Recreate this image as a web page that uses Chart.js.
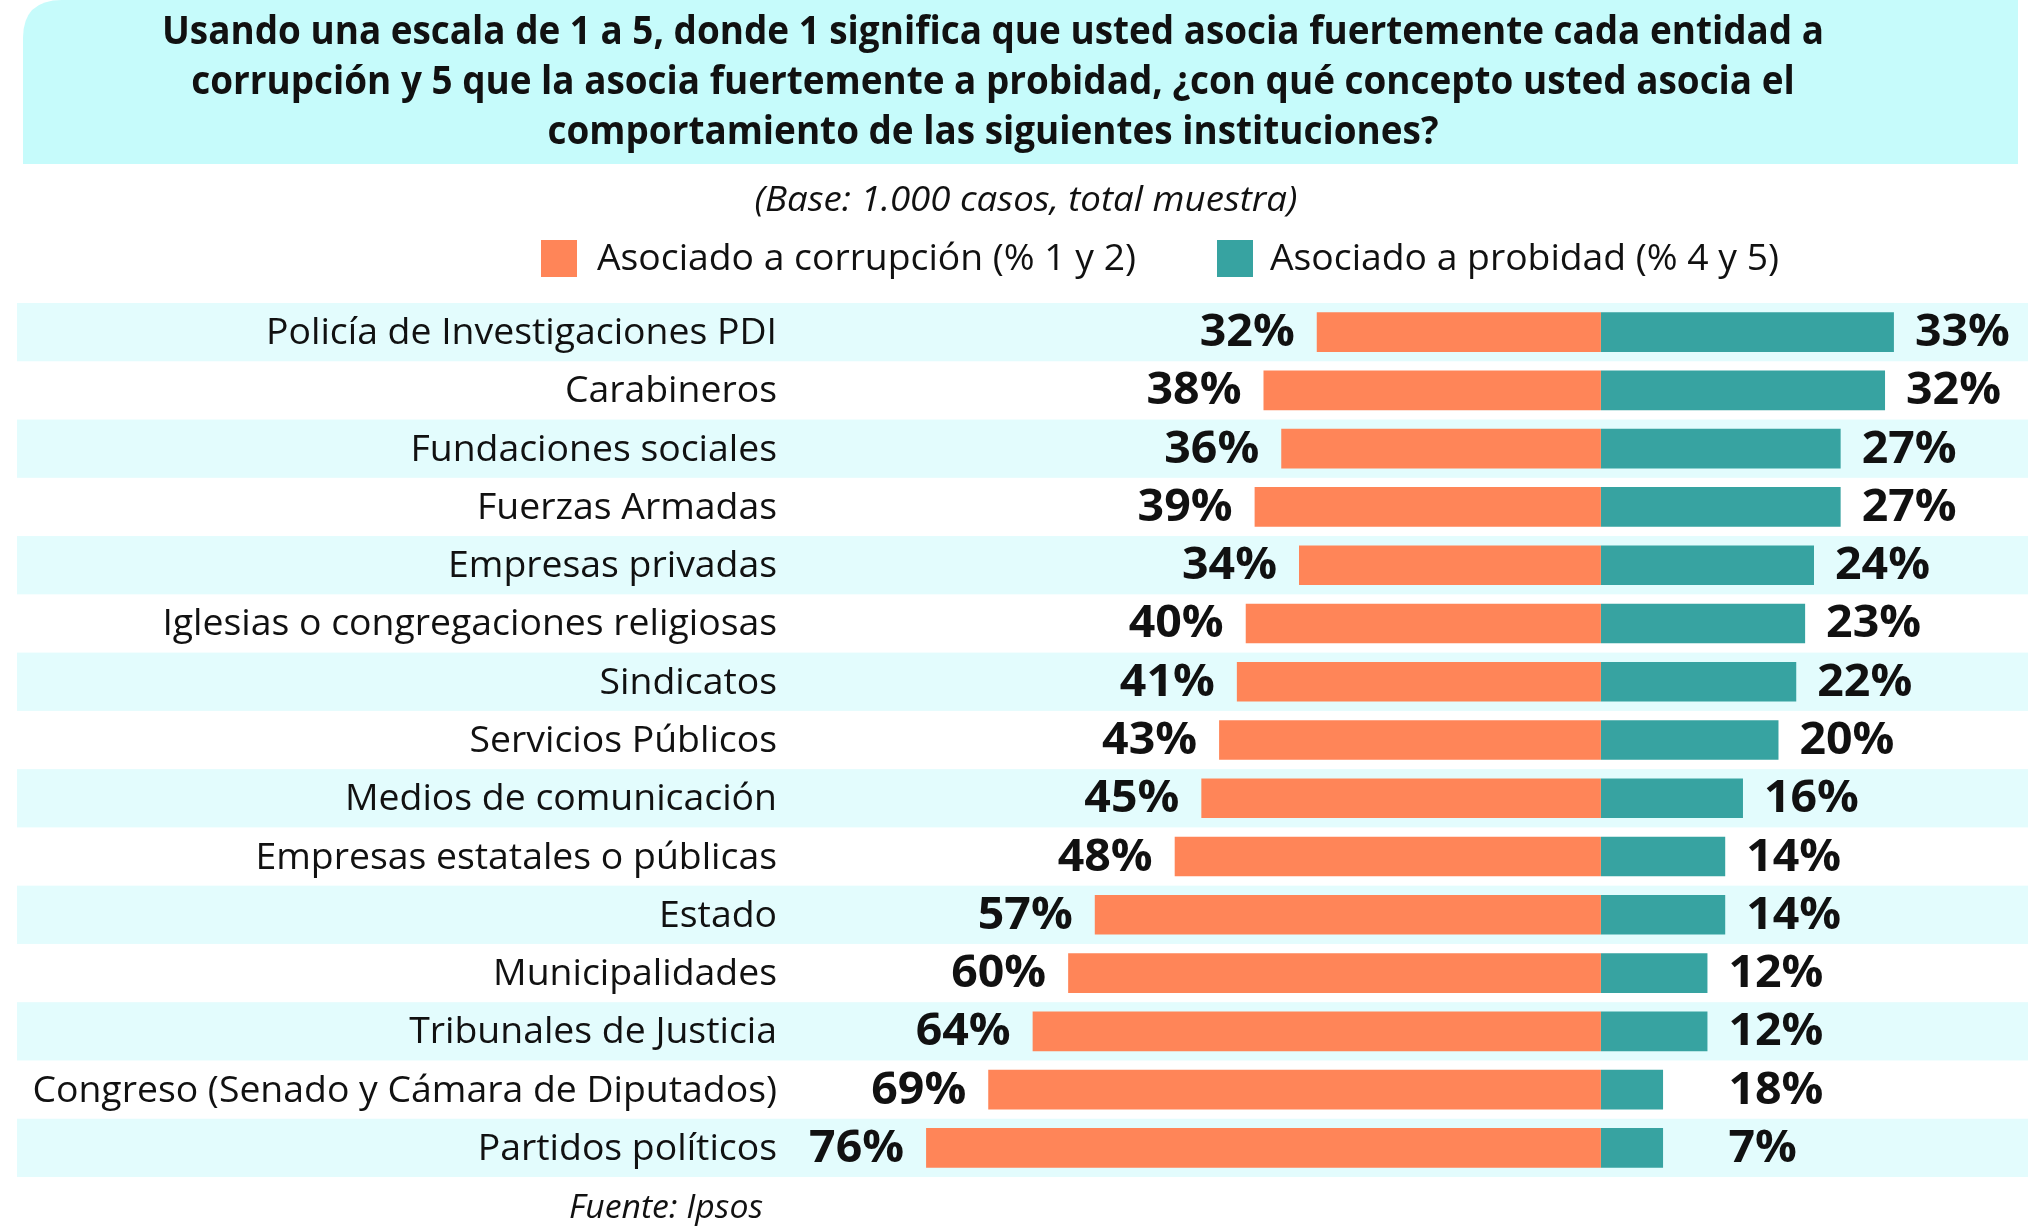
<!DOCTYPE html>
<html>
<head>
<meta charset="utf-8">
<script src="https://cdn.jsdelivr.net/npm/chart.js@4.4.1/dist/chart.umd.min.js"></script>
<style>
  html, body { margin: 0; padding: 0; background: #fff; }
</style>
</head>
<body>
<canvas id="myChart" width="2028" height="1229"></canvas>
<script>
const categories = [
  'Policía de Investigaciones PDI',
  'Carabineros',
  'Fundaciones sociales',
  'Fuerzas Armadas',
  'Empresas privadas',
  'Iglesias o congregaciones religiosas',
  'Sindicatos',
  'Servicios Públicos',
  'Medios de comunicación',
  'Empresas estatales o públicas',
  'Estado',
  'Municipalidades',
  'Tribunales de Justicia',
  'Congreso (Senado y Cámara de Diputados)',
  'Partidos políticos'
];
// % asociado a corrupción (1 y 2)
const corrupcion = [32, 38, 36, 39, 34, 40, 41, 43, 45, 48, 57, 60, 64, 69, 76];
// % asociado a probidad (4 y 5), largo de barra tal como aparece
const probidad = [33, 32, 27, 27, 24, 23, 22, 20, 16, 14, 14, 12, 12, 7, 7];
// etiquetas impresas (Congreso dice 18% aunque su barra mide como 7%)
const probidadLabels = ['33%', '32%', '27%', '27%', '24%', '23%', '22%', '20%', '16%', '14%', '14%', '12%', '12%', '18%', '7%'];

const titleLines = [
  'Usando una escala de 1 a 5, donde 1 significa que usted asocia fuertemente cada entidad a',
  'corrupción y 5 que la asocia fuertemente a probidad, ¿con qué concepto usted asocia el',
  'comportamiento de las siguientes instituciones?'
];
const subtitle = '(Base: 1.000 casos, total muestra)';
const legendLabels = ['Asociado a corrupción (% 1 y 2)', 'Asociado a probidad (% 4 y 5)'];
const source = 'Fuente: Ipsos';

const ORANGE = '#FF8558';
const TEAL = '#37A3A1';
const TITLE_BG = '#C6FBFB';
const BAND_BG = '#E3FCFD';
const FONT = '"Open Sans", "Noto Sans", sans-serif';

// dibuja texto, opcionalmente comprimido en horizontal
function drawText(ctx, text, x, y, font, align, sx) {
  ctx.save();
  ctx.font = font;
  ctx.textAlign = align;
  ctx.textBaseline = 'alphabetic';
  ctx.translate(x, y);
  ctx.scale(sx || 1, 1);
  ctx.fillStyle = '#111';
  ctx.fillText(text, 0, 0);
  ctx.restore();
}

function fitScale(ctx, text, font, width) {
  ctx.save();
  ctx.font = font;
  const w = ctx.measureText(text).width;
  ctx.restore();
  return width / w;
}

const decoPlugin = {
  id: 'deco',
  beforeDraw(chart) {
    const ctx = chart.ctx;
    const y = chart.scales.y;
    ctx.save();
    ctx.fillStyle = '#fff';
    ctx.fillRect(0, 0, chart.width, chart.height);

    // banda del título
    ctx.fillStyle = TITLE_BG;
    ctx.beginPath();
    ctx.moveTo(23, 164);
    ctx.lineTo(23, 38);
    ctx.quadraticCurveTo(23, 0, 62, 0);
    ctx.lineTo(2018, 0);
    ctx.lineTo(2018, 164);
    ctx.closePath();
    ctx.fill();

    // bandas alternas de filas
    const pitch = (chart.chartArea.bottom - chart.chartArea.top) / categories.length;
    ctx.fillStyle = BAND_BG;
    categories.forEach((c, i) => {
      if (i % 2 === 0) {
        const cy = y.getPixelForValue(i);
        ctx.fillRect(17, cy - pitch / 2, chart.width - 17, pitch);
      }
    });
    ctx.restore();
  },
  afterDatasetsDraw(chart) {
    const ctx = chart.ctx;
    const x = chart.scales.x;
    const y = chart.scales.y;

    // categorías
    const catFont = '36px ' + FONT;
    const catSx = fitScale(ctx, categories[0], catFont, 511);
    categories.forEach((c, i) => {
      drawText(ctx, c, 777, y.getPixelForValue(i) + 12, catFont, 'right', catSx);
    });

    // valores
    const valFont = 'bold 44px ' + FONT;
    const valSx = fitScale(ctx, '32%', valFont, 95);
    const minRight = x.getPixelForValue(12) + 21;
    categories.forEach((c, i) => {
      const cy = y.getPixelForValue(i) + 14;
      const left = x.getPixelForValue(-corrupcion[i]);
      drawText(ctx, corrupcion[i] + '%', left - 22, cy, valFont, 'right', valSx);
      const right = x.getPixelForValue(probidad[i]);
      drawText(ctx, probidadLabels[i], Math.max(right + 21, minRight), cy, valFont, 'left', valSx);
    });
  },
  afterDraw(chart) {
    const ctx = chart.ctx;

    // título
    const tFont = 'bold 39px ' + FONT;
    const tSx = fitScale(ctx, titleLines[0], tFont, 1662);
    const baselines = [44, 94, 144];
    titleLines.forEach((l, i) => drawText(ctx, l, 993, baselines[i], tFont, 'center', tSx));

    // subtítulo
    const sFont = 'italic 35px ' + FONT;
    drawText(ctx, subtitle, 1026, 211, sFont, 'center', fitScale(ctx, subtitle, sFont, 543));

    // leyenda
    const lFont = '37px ' + FONT;
    const lSx = fitScale(ctx, legendLabels[0], lFont, 539);
    ctx.save();
    ctx.fillStyle = ORANGE;
    ctx.fillRect(541, 240, 36, 37);
    ctx.fillStyle = TEAL;
    ctx.fillRect(1217, 240, 36, 37);
    ctx.restore();
    drawText(ctx, legendLabels[0], 597, 270, lFont, 'left', lSx);
    drawText(ctx, legendLabels[1], 1270, 270, lFont, 'left', lSx);

    // fuente
    const fFont = 'italic 33px ' + FONT;
    drawText(ctx, source, 666, 1218, fFont, 'center', fitScale(ctx, source, fFont, 194));
  }
};

const ctx = document.getElementById('myChart').getContext('2d');
const chart = new Chart(ctx, {
  type: 'bar',
  data: {
    labels: categories,
    datasets: [
      {
        label: legendLabels[0],
        data: corrupcion.map(v => -v),
        backgroundColor: ORANGE,
        categoryPercentage: 1,
        barPercentage: 0.68
      },
      {
        label: legendLabels[1],
        data: probidad,
        backgroundColor: TEAL,
        categoryPercentage: 1,
        barPercentage: 0.68
      }
    ]
  },
  options: {
    indexAxis: 'y',
    responsive: false,
    devicePixelRatio: 1,
    animation: false,
    layout: { padding: { left: 800, right: 8, top: 303, bottom: 52 } },
    scales: {
      x: { stacked: true, min: -90.2, max: 47.2, display: false },
      y: { stacked: true, display: false }
    },
    plugins: {
      legend: { display: false },
      tooltip: { enabled: false }
    }
  },
  plugins: [decoPlugin]
});
</script>
</body>
</html>
